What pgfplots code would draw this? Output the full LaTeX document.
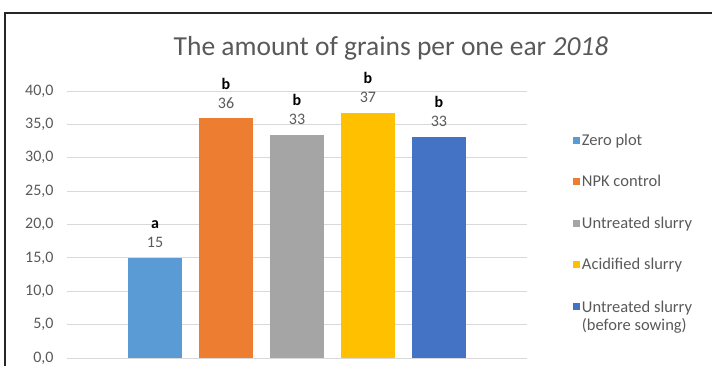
\documentclass[border=0pt]{standalone}
\usepackage{pgfplots}
\pgfplotsset{compat=1.18}
\usepackage{fontspec}
\setmainfont{Carlito}
\definecolor{txt}{HTML}{595959}
\definecolor{c1}{HTML}{5B9BD5}
\definecolor{c2}{HTML}{ED7D31}
\definecolor{c3}{HTML}{A5A5A5}
\definecolor{c4}{HTML}{FFC000}
\definecolor{c5}{HTML}{4472C4}
\begin{document}
\begin{tikzpicture}
\begin{axis}[
  at={(67pt,-358pt)}, anchor=south west,
  scale only axis, width=460pt, height=267pt,
  ymin=0, ymax=40, ytick={0,5,...,40},
  xmin=-0.24, xmax=6.24, xtick=\empty,
  axis line style={draw=none},
  ymajorgrids, grid style={color=black!15, line width=0.8pt},
  major tick length=0pt,
  yticklabel style={text=txt, font=\fontsize{16}{18}\selectfont, xshift=-10pt},
  /pgf/number format/.cd, fixed, fixed zerofill, precision=1, use comma, assume math mode=true,
  /pgfplots/.cd,
  ybar, bar width=0.76, bar shift=0pt,
  point meta=explicit symbolic,
  nodes near coords,
  every node near coord/.append style={align=center, text=txt,
    font=\fontsize{16}{19}\selectfont, inner sep=2pt, yshift=8pt},
  every axis plot post/.append style={
    legend image code/.code={\fill[##1] (0pt,-3.5pt) rectangle (7pt,3.5pt);}},
  legend style={at={(1.093,0.855)}, anchor=north west, draw=none, fill=none,
    font=\fontsize{16.5}{18}\selectfont, text=txt, row sep=24.5pt,
    nodes={inner sep=2pt}},
  legend cell align=left,
]
\addplot[fill=c1, draw=none] coordinates {(1,15.0) [{\textcolor{black}{\textbf{a}}\\15}]};
\addlegendentry{Zero plot}
\addplot[fill=c2, draw=none] coordinates {(2,35.9) [{\textcolor{black}{\textbf{b}}\\36}]};
\addlegendentry{NPK control}
\addplot[fill=c3, draw=none] coordinates {(3,33.4) [{\textcolor{black}{\textbf{b}}\\33}]};
\addlegendentry{Untreated slurry}
\addplot[fill=c4, draw=none] coordinates {(4,36.7) [{\textcolor{black}{\textbf{b}}\\37}]};
\addlegendentry{Acidified slurry}
\addplot[fill=c5, draw=none] coordinates {(5,33.1) [{\textcolor{black}{\textbf{b}}\\33}]};
\addlegendentry{\begin{tabular}[t]{@{}l@{}}Untreated slurry\\(before sowing)\end{tabular}}
\end{axis}
\node[text=txt, font=\fontsize{27.5}{30}\selectfont] at (391pt,-48pt) {The amount of grains per one ear \textit{2018}};
\draw[line width=1.2pt, black!85] (5pt,-367pt) -- (5pt,-13pt) -- (714pt,-13pt);
\pgfresetboundingbox
\useasboundingbox (0pt,0pt) rectangle (712pt,-365pt);
\end{tikzpicture}
\end{document}
